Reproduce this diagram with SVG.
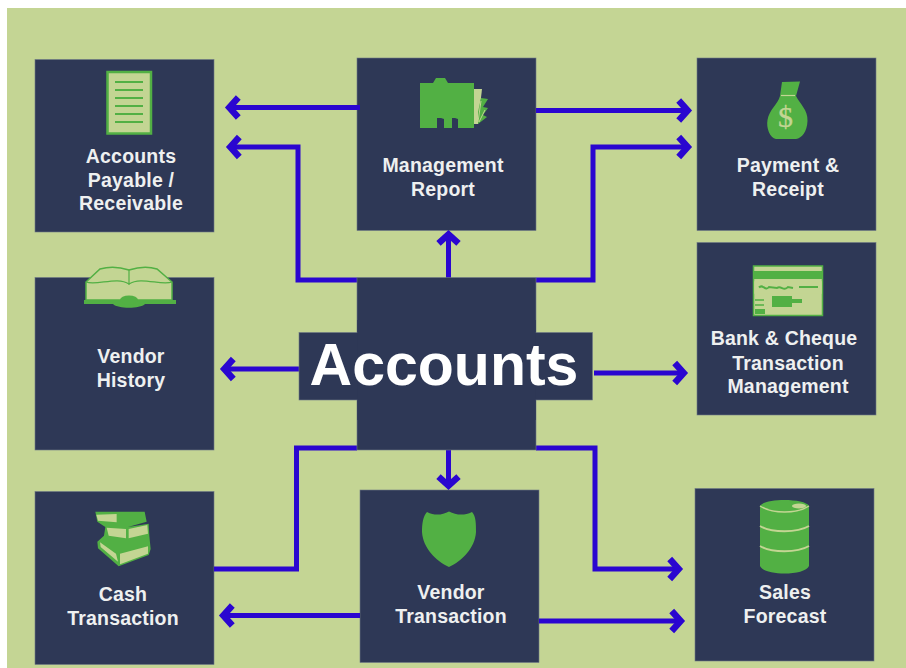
<svg xmlns="http://www.w3.org/2000/svg" width="906" height="668" viewBox="0 0 906 668">
<style>
.box{fill:#2e3856;stroke:#6f7a85;stroke-width:.6}
.lbl{font-family:"Liberation Sans",Arial,sans-serif;font-weight:700;font-size:19.5px;letter-spacing:.2px;fill:#eef0f0;text-anchor:middle}
.g{fill:#52b044}
.p{fill:#c3d593}
.gs{stroke:#52b044;fill:none}
.ps{stroke:#c3d593;fill:none}
.c{fill:none;stroke:#2a06d0;stroke-width:5}
.a{marker-end:url(#chev)}
</style>
<defs>
<marker id="chev" markerUnits="userSpaceOnUse" markerWidth="24" markerHeight="30" refX="15.300" refY="15" orient="auto" viewBox="0 0 24 30">
<path d="M5 5 L14 15 L5 25" fill="none" stroke="#2a06d0" stroke-width="6.500"/>
</marker>
</defs>
<rect width="906" height="668" fill="#fff"/>
<rect x="7" y="8" width="899" height="660" fill="#c4d594"/>

<g id="node-payable">
<rect class="box" x="35" y="59.500" width="179" height="172.500"/>
<rect class="p" x="107.500" y="72" width="43.500" height="61.500" stroke="#52b044" stroke-width="2.500"/>
<path class="gs" stroke-width="2.200" d="M115 82H143M115 90H143M115 98H143M115 106H143M115 114H143M115 122H143"/>
<text class="lbl" x="131" y="162.500">Accounts</text>
<text class="lbl" x="131" y="186.500">Payable /</text>
<text class="lbl" x="131" y="210">Receivable</text>
</g>

<g id="node-management">
<rect class="box" x="357" y="58" width="179" height="172.500"/>
<path class="p" d="M474 89H482L478 124H474Z"/>
<path class="g" d="M481 98L488 99L483 107L488 108L483 115L487 117L478 124L478 112Z"/>
<path class="ps" stroke-width="1" d="M478 122L481 101M479 122L485 110"/>
<path class="g" d="M420 83H433L436 78H445L448 83H474V128H458V119L455 118H452V128H444V119L441 118H437V128H420Z"/>
<text class="lbl" x="443" y="172">Management</text>
<text class="lbl" x="443" y="196">Report</text>
</g>

<g id="node-payment">
<rect class="box" x="697" y="58" width="179" height="172.500"/>
<path class="g" d="M782 82L800 81.500L796 96C800 104 808 110 807.500 121C807 132 802 138 796 139H776C770 138 766 128 767.500 120C769 110 778 104 780 96Z"/>
<path class="ps" stroke-width="1.200" d="M781 95.500H795"/>
<text x="785.500" y="127" font-family="'Liberation Serif',serif" font-size="30" fill="#c3d593" stroke="#c3d593" stroke-width=".3" text-anchor="middle">$</text>
<text class="lbl" x="788" y="172">Payment &amp;</text>
<text class="lbl" x="788" y="196">Receipt</text>
</g>

<g id="node-bank">
<rect class="box" x="697" y="242.500" width="179" height="172.500"/>
<rect class="p" x="753.500" y="266" width="69" height="49.500" stroke="#52b044" stroke-width="1.500"/>
<rect class="g" x="754" y="271" width="68" height="8"/>
<rect class="ps" x="755" y="282" width="66" height="11" stroke="#52b044" stroke-width="1.500"/>
<path class="gs" stroke-width="2" d="M759 287.500C763 283 765 292 769 287L777 288C781 285 784 292 788 287L793 288M799 287H818"/>
<path class="g" d="M772 296H792V299H802V303H792V307H772Z"/>
<path class="gs" stroke-width="1.500" d="M755 300H764M755 305H764"/>
<rect class="g" x="755" y="309" width="10" height="5"/>
<text class="lbl" x="784" y="345">Bank &amp; Cheque</text>
<text class="lbl" x="788" y="369.500">Transaction</text>
<text class="lbl" x="788" y="393">Management</text>
</g>

<g id="node-vendor-history">
<rect class="box" x="35" y="277.500" width="179" height="172.500"/>
<path class="p" d="M86 282L100 269C110 266 120 267 129 270C138 267 148 266 157 269L172 282V300H86Z" stroke="#52b044" stroke-width="1.500"/>
<path class="gs" stroke-width="1.200" d="M86 282C97 286 117 276 129 284C141 276 161 286 172 282M129 270V285"/>
<path class="g" d="M84 300H176V304H145C140 309 118 309 113 304H84Z"/>
<ellipse class="g" cx="129" cy="300" rx="9" ry="4.500"/>
<text class="lbl" x="131" y="363">Vendor</text>
<text class="lbl" x="131" y="387">History</text>
</g>

<g id="node-cash">
<rect class="box" x="35" y="491.500" width="179" height="173"/>
<g transform="translate(88 505) scale(.3333)">
<path class="g" d="M22 20H170L176 50L120 66L182 56L184 92L188 132L182 150L92 184L30 130L28 110L48 92L52 66L28 50Z"/>
<path class="p" d="M25 29L86 27V52L30 47ZM56 68L114 72V100L62 92ZM122 72L178 60L180 86L122 100ZM36 112L84 146L90 170L38 126ZM96 146L180 124L180 146L96 178Z"/>
</g>
<text class="lbl" x="123" y="600.500">Cash</text>
<text class="lbl" x="123" y="624.500">Transaction</text>
</g>

<g id="node-vendor-transaction">
<rect class="box" x="360" y="490" width="179" height="172.500"/>
<path class="g" d="M427 512C435 516 442 515 449 511.500C456 515 464 516 472 512C476 516 476 524 476 532C475 548 462 561 449 567C436 561 423 548 422 532C422 524 423 516 427 512Z"/>
<text class="lbl" x="451" y="599">Vendor</text>
<text class="lbl" x="451" y="623">Transaction</text>
</g>

<g id="node-sales">
<rect class="box" x="695" y="488.500" width="179" height="172.500"/>
<path class="g" d="M760 506C764 498 805 498 809 506V566C805 576 764 576 760 566Z"/>
<path class="ps" stroke-width="2" d="M760 526C772 533 797 533 809 526M760 546C772 553 797 553 809 546"/>
<path class="ps" stroke-width="1.500" d="M760 506C772 514 797 514 809 506"/>
<ellipse class="p" cx="799" cy="506" rx="7" ry="2.500"/>
<text class="lbl" x="785" y="599">Sales</text>
<text class="lbl" x="785" y="623">Forecast</text>
</g>

<g id="connectors">
<path class="c a" d="M360 107.500H228"/>
<path class="c a" d="M357 280H298V147H229"/>
<path class="c a" d="M536 110.500H689"/>
<path class="c a" d="M536 280H593V147H689"/>
<path class="c a" d="M448.500 278V233"/>
<path class="c a" d="M448.500 448V487"/>
<path class="c" d="M357 448H296.500V569H214"/>
<path class="c a" d="M536 448H595V569H680"/>
<path class="c a" d="M360 615.500H222"/>
<path class="c a" d="M539 621H682"/>
<path class="c a" d="M300 369H223"/>
<path class="c a" d="M594 373H685"/>
</g>

<g id="node-accounts">
<rect class="box" x="357" y="277.500" width="179" height="172.500" stroke="none"/>
<rect class="box" x="299" y="332.500" width="293.500" height="67.500"/>
<rect x="357.300" y="320" width="178.400" height="100" fill="#2e3856"/>
<text x="444" y="385" font-family="'Liberation Sans',Arial,sans-serif" font-weight="700" font-size="59px" fill="#fff" text-anchor="middle">Accounts</text>
</g>
</svg>
